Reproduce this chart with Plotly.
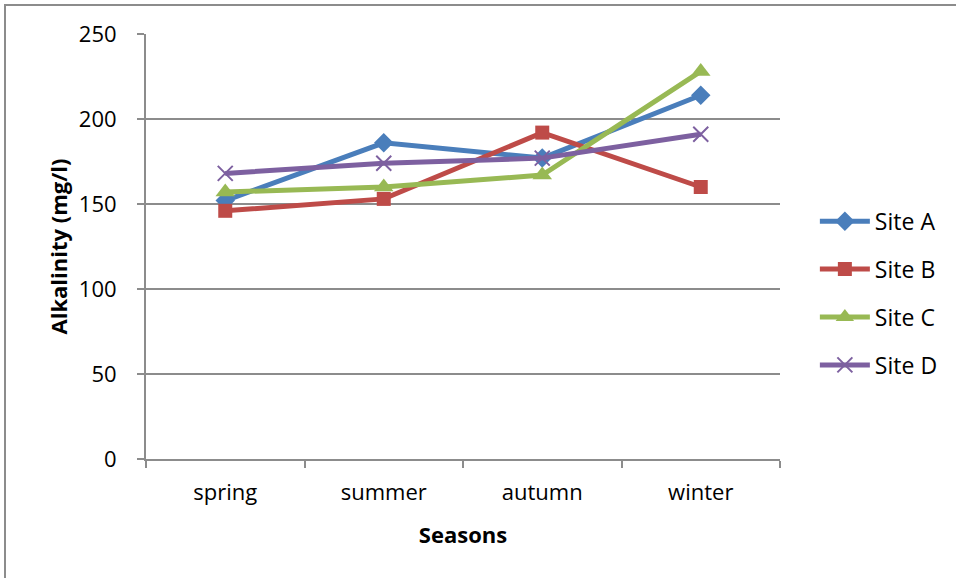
import plotly.graph_objects as go

# Seasonal alkalinity readings at four sampling sites
seasons = ["spring", "summer", "autumn", "winter"]
site_a = [152, 186, 177, 214]
site_b = [146, 153, 192, 160]
site_c = [157, 160, 167, 228]
site_d = [168, 174, 177, 191]

series = [
    ("Site A", site_a, "#4A7EBB", "diamond", 15, 0),
    ("Site B", site_b, "#BE4B48", "square", 14, 0),
    ("Site C", site_c, "#98B954", "triangle-up", 17, 0),
    ("Site D", site_d, "#7D60A0", "x-thin-open", 15, 2),
]

FONT = "Open Sans"
GRID = "#8C8C8C"

fig = go.Figure()
for i, (name, vals, color, symbol, size, mlw) in enumerate(series):
    fig.add_trace(go.Scatter(
        x=seasons, y=vals, name=name, mode="lines+markers",
        legendgroup=f"g{i}",
        line=dict(color=color, width=5),
        marker=dict(symbol=symbol, size=size, color=color,
                    line=dict(color=color, width=mlw)),
    ))

fig.update_layout(
    width=956, height=578,
    margin=dict(l=146, r=176, t=34, b=119),
    paper_bgcolor="white", plot_bgcolor="white",
    font=dict(family=FONT, size=22, color="black"),
    showlegend=True,
    legend=dict(
        x=1.055, xanchor="left", y=0.39, yanchor="middle",
        traceorder="grouped", tracegroupgap=15,
        itemwidth=50,
        font=dict(family=FONT, size=23, color="black"),
        bgcolor="rgba(0,0,0,0)",
    ),
    xaxis=dict(
        type="category", range=[-0.5, 3.5],
        showline=True, linecolor=GRID, linewidth=2,
        ticks="outside", tickson="boundaries", ticklen=7,
        tickcolor=GRID, tickwidth=2,
        showgrid=False, zeroline=False,
        ticklabelstandoff=13,
        title=dict(text="<b>Seasons</b>", standoff=22,
                   font=dict(family=FONT, size=22)),
    ),
    yaxis=dict(
        range=[0, 250], dtick=50,
        showline=True, linecolor=GRID, linewidth=2,
        ticks="outside", ticklen=7, tickcolor=GRID, tickwidth=2,
        showgrid=True, gridcolor=GRID, gridwidth=2,
        zeroline=False,
        ticklabelstandoff=16,
        title=dict(text="<b>Alkalinity (mg/l)</b>", standoff=5,
                   font=dict(family=FONT, size=22)),
    ),
    shapes=[dict(
        type="rect", xref="paper", yref="paper",
        x0=(5 - 146) / 634, x1=(990 - 146) / 634,
        y0=(459 - 620) / 425, y1=(459 - 5) / 425,
        line=dict(color="#8C8C8C", width=2), fillcolor="rgba(0,0,0,0)",
        layer="below",
    )],
)

fig.write_html("out.html")
